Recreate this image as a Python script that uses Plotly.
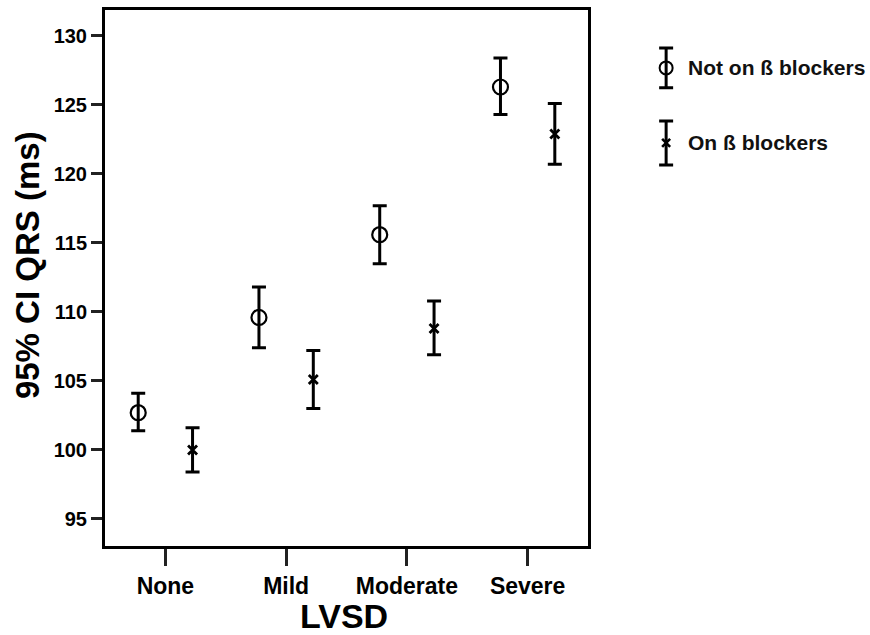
import plotly.graph_objects as go

# Mean QRS duration with 95% CI by LVSD grade, split by beta-blocker use
categories = ["None", "Mild", "Moderate", "Severe"]

not_bb_mean = [102.7, 109.6, 115.6, 126.3]
not_bb_low = [101.4, 107.4, 113.5, 124.3]
not_bb_high = [104.1, 111.8, 117.7, 128.4]

on_bb_mean = [100.0, 105.1, 108.8, 122.9]
on_bb_low = [98.4, 103.0, 106.9, 120.7]
on_bb_high = [101.6, 107.2, 110.8, 125.1]

y_ticks = [95, 100, 105, 110, 115, 120, 125, 130]
series_names = ["Not on ß blockers", "On ß blockers"]

FONT = "Arial, Liberation Sans, sans-serif"
OFFSET = 0.225

xi = list(range(len(categories)))


def ci_trace(means, lows, highs, shift, symbol, size, lw, xaxis="x", yaxis="y"):
    xs = [i + shift for i in range(len(means))]
    return go.Scatter(
        x=xs, y=means, mode="markers", showlegend=False,
        xaxis=xaxis, yaxis=yaxis, cliponaxis=False,
        marker=dict(symbol=symbol, size=size, color="black",
                    line=dict(color="black", width=lw)),
        error_y=dict(type="data", symmetric=False,
                     array=[h - m for h, m in zip(highs, means)],
                     arrayminus=[m - l for m, l in zip(means, lows)],
                     color="black", thickness=3, width=7),
        hoverinfo="skip",
    )


fig = go.Figure()
fig.add_trace(ci_trace(not_bb_mean, not_bb_low, not_bb_high, -OFFSET,
                       "circle-open", 15, 2.2))
fig.add_trace(ci_trace(on_bb_mean, on_bb_low, on_bb_high, OFFSET,
                       "x-thin-open", 9, 2.8))

# Legend samples: marker with an error bar, drawn on a hidden side axis
legend_y = [0.892, 0.752]
legend_half = [0.037, 0.041]
for k, (sym, sz, lw) in enumerate([("circle-open", 13, 2.0), ("x-thin-open", 8, 2.6)]):
    fig.add_trace(go.Scatter(
        x=[0], y=[legend_y[k]], mode="markers", showlegend=False,
        xaxis="x2", yaxis="y2", cliponaxis=False, hoverinfo="skip",
        marker=dict(symbol=sym, size=sz, color="black",
                    line=dict(color="black", width=lw)),
        error_y=dict(type="constant", value=legend_half[k],
                     color="black", thickness=3, width=7),
    ))
    fig.add_annotation(xref="paper", yref="paper", x=0.7595, y=legend_y[k],
                       xanchor="left", yanchor="middle", showarrow=False,
                       text=series_names[k],
                       font=dict(family=FONT, size=21, color="#111111",
                                 weight="bold"))

fig.update_layout(
    width=870, height=635,
    margin=dict(l=105, r=0, t=10, b=89),
    paper_bgcolor="white", plot_bgcolor="white",
    font=dict(family=FONT, color="black"),
    xaxis=dict(domain=[0, 0.6314], range=[-0.5, 3.5],
               tickvals=xi, ticktext=categories,
               showline=True, mirror=True, linecolor="black", linewidth=3,
               ticks="outside", ticklen=17, tickwidth=2.5, tickcolor="#222222",
               showgrid=False, zeroline=False, automargin=False,
               tickfont=dict(family=FONT, size=23, weight="bold")),
    yaxis=dict(range=[93.04, 131.88], tickvals=y_ticks,
               showline=True, mirror=True, linecolor="black", linewidth=3,
               ticks="outside", ticklen=11, tickwidth=2.5, tickcolor="#222222",
               showgrid=False, zeroline=False, automargin=False,
               tickfont=dict(family=FONT, size=20, weight="bold")),
    xaxis2=dict(domain=[0.72, 0.747], range=[-1, 1], visible=False,
                anchor="y2", fixedrange=True),
    yaxis2=dict(domain=[0, 1], range=[0, 1], visible=False,
                anchor="x2", fixedrange=True),
    annotations=list(fig.layout.annotations) + [
        dict(xref="paper", yref="paper", x=-0.102, y=0.524, textangle=-90,
             xanchor="center", yanchor="middle", showarrow=False,
             text="95% CI QRS (ms)",
             font=dict(family=FONT, size=33, weight="bold")),
        dict(xref="paper", yref="paper", x=0.3124, y=-0.1306,
             xanchor="center", yanchor="middle", showarrow=False,
             text="LVSD",
             font=dict(family=FONT, size=34, weight="bold")),
    ],
)

fig.write_html("out.html")
